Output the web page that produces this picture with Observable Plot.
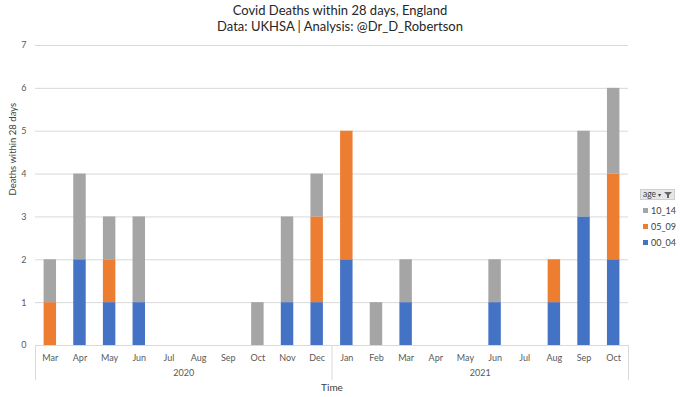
<!DOCTYPE html>
<html><head><meta charset="utf-8">
<script src="https://cdn.jsdelivr.net/npm/d3@7"></script>
<script src="https://cdn.jsdelivr.net/npm/@observablehq/plot@0.6"></script>
<style>
body{margin:0;background:#fff;font-family:Lato,"Open Sans",sans-serif;}
#wrap{position:relative;width:680px;height:397px;overflow:hidden;}
#title{position:absolute;left:0;top:2px;width:680px;text-align:center;font-size:13px;line-height:16px;color:#262626;}
#chart{position:absolute;left:0;top:40px;}
#legend{position:absolute;left:640px;top:189px;font-size:9px;color:#404040;}
#legend .hdr{position:relative;width:35px;height:11px;background:#e6e6e6;border:1px solid #cfcfcf;box-sizing:border-box;font-size:8.5px;line-height:9px;padding-left:2px;color:#404040;}
#legend .item{position:absolute;left:3px;white-space:nowrap;line-height:10px;}
#legend .sw{display:inline-block;width:5px;height:5px;margin-right:3px;vertical-align:1px;}
</style></head><body>
<div id="wrap">
<div id="title"><div>Covid Deaths within 28 days, England</div><div>Data: UKHSA | Analysis: @Dr_D_Robertson</div></div>
<div id="chart"></div>
<div id="legend"></div>
</div>
<script>
const months = ["Mar","Apr","May","Jun","Jul","Aug","Sep","Oct","Nov","Dec","Jan","Feb","Mar","Apr","May","Jun","Jul","Aug","Sep","Oct"];
const monthYears = ["2020","2020","2020","2020","2020","2020","2020","2020","2020","2020","2021","2021","2021","2021","2021","2021","2021","2021","2021","2021"];
const years = ["2020","2021"];
const series = ["00_04","05_09","10_14"];
const age00_04 = [0,2,1,1,0,0,0,0,1,1,2,0,1,0,0,1,0,1,3,2];
const age05_09 = [1,0,1,0,0,0,0,0,0,2,3,0,0,0,0,0,0,1,0,2];
const age10_14 = [1,2,1,2,0,0,0,1,2,1,0,1,1,0,0,1,0,0,2,2];
const yTicks = [0,1,2,3,4,5,6,7];
const colors = ["#4472C4","#ED7D31","#A5A5A5"];

const W = 680, H = 357, ML = 35, MR = 52, MT = 5, MB = 52;
const step = (W - ML - MR) / months.length;
const keys = months.map((m, i) => monthYears[i] + "-" + m);
const values = [age00_04, age05_09, age10_14];
const rows = [];
series.forEach((s, si) => values[si].forEach((v, i) => rows.push({key: keys[i], age: s, v})));

const yearMarks = years.map(y => {
  const idx = keys.map((k, i) => i).filter(i => monthYears[i] === y);
  const c = (idx[0] + idx[idx.length - 1]) / 2;
  const k = Math.floor(c);
  return Plot.text([y], {x: [keys[k]], text: d => d, frameAnchor: "bottom", dy: 30, dx: (c - k) * step, fontSize: 9, fill: "#595959"});
});
const firstKeys = years.map(y => keys[monthYears.indexOf(y)]);
const sepStyle = {stroke: "#d9d9d9", dy: 35, insetTop: 265};

const chart = Plot.plot({
  width: W, height: H,
  marginLeft: ML, marginRight: MR, marginTop: MT, marginBottom: MB,
  style: {fontFamily: "Lato, 'Open Sans', sans-serif", background: "white"},
  x: {domain: keys, paddingInner: 0.58, paddingOuter: 0.29, round: false},
  y: {domain: [0, 7]},
  color: {domain: series, range: colors},
  marks: [
    Plot.gridY(yTicks, {stroke: "#d9d9d9", strokeOpacity: 1}),
    Plot.barY(rows, {x: "key", y: "v", fill: "age"}),
    Plot.axisY(yTicks, {tickSize: 0, tickPadding: 9, fontSize: 9, fill: "#595959", label: null}),
    Plot.text(["Deaths within 28 days"], {frameAnchor: "left", dx: -23, rotate: -90, fontSize: 9.5, fill: "#404040"}),
    Plot.axisX({tickSize: 0, tickPadding: 9, fontSize: 9, fill: "#595959", tickFormat: d => d.split("-")[1], label: null}),
    ...yearMarks,
    Plot.ruleX(firstKeys, {...sepStyle, dx: -step / 2}),
    Plot.ruleX([keys[keys.length - 1]], {...sepStyle, dx: step / 2}),
    Plot.text(["Time"], {frameAnchor: "bottom", dy: 45, fontSize: 10, fill: "#404040"})
  ]
});
document.getElementById("chart").appendChild(chart);

const legend = document.getElementById("legend");
const hdr = document.createElement("div");
hdr.className = "hdr";
hdr.innerHTML = 'age<span style="position:absolute;left:17px;top:0px;font-size:6px;">&#9662;</span>' +
  '<span style="position:absolute;left:23px;top:2px;width:0;height:0;border-left:4px solid transparent;border-right:4px solid transparent;border-top:4px solid #666;"></span>' +
  '<span style="position:absolute;left:26px;top:5px;width:2px;height:3px;background:#666;"></span>';
legend.appendChild(hdr);
series.slice().reverse().forEach((s, j) => {
  const si = series.indexOf(s);
  const it = document.createElement("div");
  it.className = "item";
  it.style.top = (17 + j * 16) + "px";
  it.innerHTML = '<span class="sw" style="background:' + colors[si] + '"></span>' + s;
  legend.appendChild(it);
});
</script>
</body></html>
